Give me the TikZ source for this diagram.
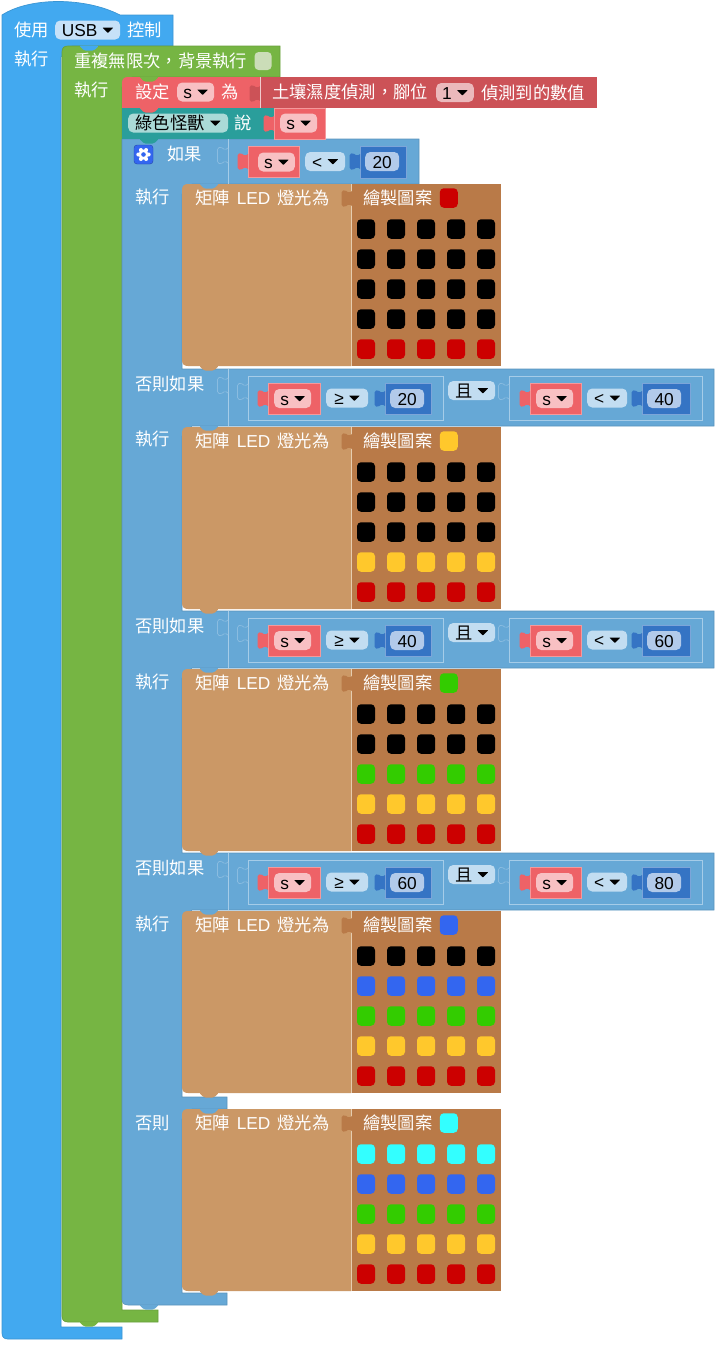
\documentclass[tikz,border=0pt]{standalone}
\usepackage{fontspec}
\setmainfont{Liberation Sans}
\newfontfamily\cjk{Noto Sans CJK TC}
\newfontfamily\latn{Liberation Sans}
\usepackage{xcolor}
\usepackage{tikz}
\usetikzlibrary{positioning}

\definecolor{usbblue}{HTML}{42A9F0}
\definecolor{loopgreen}{HTML}{76B543}
\definecolor{ifblue}{HTML}{66A8D6}
\definecolor{ifline}{HTML}{A5CCE8}
\definecolor{slotline}{HTML}{8ABCE0}
\definecolor{setred}{HTML}{EE6267}
\definecolor{readred}{HTML}{CC5257}
\definecolor{sayteal}{HTML}{2A9E9B}
\definecolor{ledtan}{HTML}{CB9866}
\definecolor{drawtan}{HTML}{B97A48}
\definecolor{tanline}{HTML}{E6CDB0}
\definecolor{numblue}{HTML}{3574C4}
\definecolor{numfield}{HTML}{B2CAEA}
\definecolor{usbfield}{HTML}{C6E1F8}
\definecolor{opfield}{HTML}{C2DDF1}
\definecolor{sfield}{HTML}{F8C0C3}
\definecolor{pinfield}{HTML}{EBB9BC}
\definecolor{tealfield}{HTML}{AADAD7}
\definecolor{tickfield}{HTML}{CBDDB8}
\definecolor{ledred}{HTML}{CC0000}
\definecolor{ledyellow}{HTML}{FFC82C}
\definecolor{ledgreen}{HTML}{33CC00}
\definecolor{ledblue}{HTML}{3366F0}
\definecolor{ledcyan}{HTML}{33FFFF}

\tikzset{
  lbl/.style={inner sep=0pt, anchor=west, text=white, text height=14pt, text depth=1pt,
    font=\cjk\fontsize{17.3}{20}\selectfont},
  chip/.style={fill=#1, rounded corners=5pt, inner xsep=6pt, inner ysep=3pt, anchor=west,
    text=black, text height=13pt, text depth=0pt, align=center,
    font=\latn\fontsize{17.3}{20}\selectfont},
  schip/.style={chip=sfield, minimum width=37pt},
  opchip/.style={chip=opfield, minimum width=40pt},
  numchip/.style={chip=numfield, minimum width=34pt},
  led/.style={rounded corners=4pt, minimum width=18pt, minimum height=19.5pt, inner sep=0pt},
  slot/.style={draw=slotline, fill=ifblue, line width=.7pt},
  tabshape/.pic={\path[pic actions, rounded corners=1.5pt]
    (0,1) -- (-3,3) -- (-7,0) -- (-10.5,1) -- (-10.5,16) -- (-7,17) -- (-3,14) -- (0,16);}
}

\newcommand\dropmark{\hspace{5pt}\raisebox{3.5pt}{\tikz[x=1pt,y=1pt]\fill[rounded corners=.6pt] (0,5.5) -- (11,5.5) -- (5.5,0) -- cycle;}}
\newcommand\notch[3]{\fill[#3, rounded corners=1.5pt] (#1+17,#2-.5) -- (#1+22,#2+4.5) -- (#1+32,#2+4.5) -- (#1+37,#2-.5) -- cycle;}
\newcommand\valblk[5]{
  \fill[#5, draw=#5!65!white, line width=.5pt] (#1,#2) rectangle (#3,#4);
  \pic[fill=#5] at (#1,#2+7) {tabshape};
}

% one "else if" row: s >= a and s < b
\newcommand\condrow[4]{
  \begin{scope}[shift={(0,#2)}]
    \draw[ifline, line width=.7pt] (228,369) -- (228,426);
    \pic[slot] at (228,377) {tabshape};
    \node[lbl] (#1head) at (135,383.5) {否則如果};
    \draw[ifline, line width=.7pt] (248,376) rectangle (443,420);
    \pic[slot] at (248,383) {tabshape};
    \valblk{268}{383}{320}{414}{setred}
    \node[schip] (#1sa) at (274,398.5) {s\dropmark};
    \node[opchip, minimum width=42pt] (#1opa) at (326,398) {≥\dropmark};
    \valblk{385}{383}{431}{414}{numblue}
    \node[numchip] (#1numa) at (390,398.5) {#3};
    \node[chip=opfield, minimum width=47pt, font=\cjk\fontsize{17.3}{20}\selectfont] (#1and) at (448,390.5) {且\dropmark};
    \draw[ifline, line width=.7pt] (509,376) rectangle (702,420);
    \pic[slot] at (509,383) {tabshape};
    \valblk{530}{383}{581}{414}{setred}
    \node[schip] (#1sb) at (536,398.5) {s\dropmark};
    \node[opchip] (#1opb) at (587,398) {<\dropmark};
    \valblk{642}{383}{690}{414}{numblue}
    \node[numchip] (#1numb) at (647,398.5) {#4};
  \end{scope}
}

% one LED block, the rows of the matrix from the top down
\newcommand\ledpanel[8]{
  \begin{scope}[shift={(0,#2)}]
    \fill[ledtan] (182,190) .. controls (182,186) and (184,184) .. (188,184) -- (351,184) -- (351,366)
      -- (188,366) .. controls (184,366) and (182,364) .. (182,360) -- cycle;
    \fill[drawtan] (351,184) rectangle (501,366);
    \draw[tanline, line width=.8pt] (351,184) -- (351,366);
    \pic[fill=drawtan] at (352,190) {tabshape};
    \node[lbl] (#1set) at (195,198) {矩陣\hspace{7pt}{\latn LED}\hspace{7pt}燈光為};
    \node[lbl] (#1draw) at (363,198) {繪製圖案};
    \node[led, fill=#8] (#1swatch) [right=7pt of #1draw] {};
    \foreach \col [count=\r] in {#3,#4,#5,#6,#7}
      \foreach \x in {366,396,426,456,486}
        \node[led, fill=\col] (#1led\r\x) at (\x,199+30*\r) {};
    \notch{182}{366}{ledtan}
  \end{scope}
}

\begin{document}
\begin{tikzpicture}[x=1pt, y=-1pt]
  \useasboundingbox (0,0) rectangle (724,1349);

  \path[fill=usbblue, draw=usbblue!88!black, line width=.7pt]
    (2,15) .. controls (30,-3) and (85,-3) .. (120,15) -- (173,15) -- (173,46) -- (72,46) -- (61,57)
    -- (61,1327) -- (122,1327) -- (122,1339) -- (8,1339) .. controls (4,1339) and (2,1337) .. (2,1333) -- cycle;
  \path[fill=loopgreen, draw=loopgreen!88!black, line width=.7pt]
    (62,52) .. controls (62,48) and (64,46) .. (68,46) -- (280,46) -- (280,77) -- (132,77) -- (122,87)
    -- (122,1310) -- (158,1310) -- (158,1322) -- (68,1322) .. controls (64,1322) and (62,1320) .. (62,1316) -- cycle;
  \path[fill=ifblue, draw=ifblue!88!black, line width=.6pt]
    (122,139) -- (419,139) -- (419,184) -- (192,184) -- (182,194) -- (182,369)
    -- (714,369) -- (714,426) -- (192,426) -- (182,436) -- (182,611)
    -- (714,611) -- (714,668) -- (192,668) -- (182,678) -- (182,853)
    -- (714,853) -- (714,910) -- (192,910) -- (182,920) -- (182,1097)
    -- (227,1097) -- (227,1109) -- (192,1109) -- (182,1119) -- (182,1293)
    -- (227,1293) -- (227,1305) -- (128,1305) .. controls (124,1305) and (122,1303) .. (122,1299) -- cycle;

  \node[lbl] (use) at (14,30) {使用};
  \node[chip=usbfield, minimum width=65pt] (usb) [right=6pt of use] {USB\dropmark};
  \node[lbl] (ctrl) [right=7pt of usb] {控制};
  \node[lbl] (run) at (14,59) {執行};
  \node[lbl] (forever) at (74,61) {重複無限次，背景執行};
  \node[led, fill=tickfield, minimum width=17pt, minimum height=18pt] (tick) [right=7pt of forever] {};
  \node[lbl] (runloop) at (74,90) {執行};

  \fill[readred] (260,77) rectangle (597,108);
  \path[fill=setred] (122,83) .. controls (122,79) and (124,77) .. (128,77) -- (260,77) -- (260,108) -- (122,108) -- cycle;
  \pic[fill=readred] at (260,85) {tabshape};
  \draw[white!70!readred, line width=.5pt] (260,77) -- (260,108);
  \node[lbl] (setvar) at (135,92) {設定};
  \node[schip] (setname) [right=7pt of setvar] {s\dropmark};
  \node[lbl] (setto) [right=7pt of setname] {為};
  \node[lbl] (soil) at (272,92) {土壤濕度偵測，腳位};
  \node[chip=pinfield, minimum width=36pt] (pin) at (436,92.5) {1\dropmark};
  \node[lbl] (soilval) [right=7pt of pin] {偵測到的數值};

  \fill[sayteal] (122,108) rectangle (274,139);
  \node[chip=tealfield, minimum width=100pt, font=\cjk\fontsize{17.3}{20}\selectfont] (monster) at (128,123) {綠色怪獸\dropmark};
  \node[lbl] (say) [right=6pt of monster] {說};
  \valblk{274}{108}{325}{139}{setred}
  \node[schip] (saysval) at (280,123) {s\dropmark};

  \draw[ifline, line width=.7pt] (228,139) -- (228,184);
  \pic[slot] at (228,147) {tabshape};
  \node[rounded corners=3pt, fill=ledblue, draw=ledblue!70!black, minimum size=19pt, inner sep=0pt] (gear) at (143.5,154.5) {};
  \begin{scope}[shift={(143.5,154.5)}]
    \foreach \a in {0,60,...,300} \fill[white] (\a:5.2) circle (2pt);
    \fill[white] (0,0) circle (5pt);
    \fill[ledblue] (0,0) circle (2.3pt);
  \end{scope}
  \node[lbl] (ifhead) at (167,154) {如果};
  \valblk{248}{146}{299}{177}{setred}
  \node[schip, minimum width=34pt] (ifs) at (258,162) {s\dropmark};
  \node[opchip] (ifop) at (305,161.5) {<\dropmark};
  \valblk{360}{146}{406}{178}{numblue}
  \node[numchip] (ifnum) at (365,161.5) {20};

  \node[lbl] (runa) at (135,197) {執行};
  \node[lbl] (runb) at (135,439) {執行};
  \node[lbl] (runc) at (135,682) {執行};
  \node[lbl] (rund) at (135,924) {執行};
  \node[lbl] (other) at (135,1123) {否則};

  \condrow{ca}{0}{20}{40}
  \condrow{cb}{242}{40}{60}
  \condrow{cc}{484}{60}{80}

  \ledpanel{pa}{0}{black}{black}{black}{black}{ledred}{ledred}
  \ledpanel{pb}{243}{black}{black}{black}{ledyellow}{ledred}{ledyellow}
  \ledpanel{pc}{485}{black}{black}{ledgreen}{ledyellow}{ledred}{ledgreen}
  \ledpanel{pd}{727}{black}{ledblue}{ledgreen}{ledyellow}{ledred}{ledblue}
  \ledpanel{pe}{925}{ledcyan}{ledblue}{ledgreen}{ledyellow}{ledred}{ledcyan}

  \notch{62}{46}{usbblue}
  \notch{122}{77}{loopgreen}
  \notch{122}{108}{setred}
  \notch{122}{139}{sayteal}
  \notch{182}{184}{ifblue}
  \notch{182}{426}{ifblue}
  \notch{182}{668}{ifblue}
  \notch{182}{910}{ifblue}
  \notch{182}{1109}{ifblue}
  \notch{122}{1305}{ifblue}
  \notch{62}{1322}{loopgreen}
\end{tikzpicture}
\end{document}
